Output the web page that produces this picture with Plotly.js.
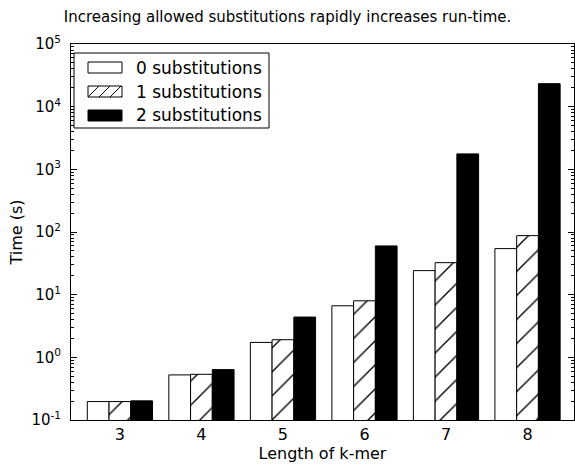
<!DOCTYPE html>
<html>
<head>
<meta charset="utf-8">
<script src="https://cdn.plot.ly/plotly-3.0.1.min.js"></script>
<style>html,body{margin:0;padding:0;background:#fff;}#chart{width:575px;height:465px;}</style>
</head>
<body>
<div id="chart"></div>
<script>
// ---- data ----
const kmer = [3, 4, 5, 6, 7, 8];
const sub0 = [0.197, 0.524, 1.73, 6.64, 24.2, 54.3];
const sub1 = [0.197, 0.536, 1.91, 7.98, 32.4, 87.5];
const sub2 = [0.202, 0.637, 4.39, 59.9, 1763, 23280];
const seriesNames = ['0 substitutions', '1 substitutions', '2 substitutions'];
const yTickVals = [0.1, 1, 10, 100, 1000, 10000, 100000];
const yTickText = ['10<sup>-1</sup>', '10<sup>0</sup>', '10<sup>1</sup>', '10<sup>2</sup>', '10<sup>3</sup>', '10<sup>4</sup>', '10<sup>5</sup>'];
const xTickText = ['3', '4', '5', '6', '7', '8'];
const titleText = 'Increasing allowed substitutions rapidly increases run-time.';
const xTitle = 'Length of k-mer';
const yTitle = 'Time (s)';

// ---- layout geometry ----
const W = 575, H = 465;
const M = {l: 71, r: 1, t: 44, b: 45};
const PW = W - M.l - M.r, PH = H - M.t - M.b;
const px = x => (x - M.l) / PW;
const py = y => (H - M.b - y) / PH;
const FONT = 'DejaVu Sans, sans-serif';

const lineStyle = {color: '#000', width: 1};
const traces = [
  {type: 'bar', x: kmer, y: sub0, name: seriesNames[0],
   marker: {color: '#fff', line: lineStyle}},
  {type: 'bar', x: kmer, y: sub1, name: seriesNames[1],
   marker: {color: '#fff', line: lineStyle,
            pattern: {shape: '/', fgcolor: '#000', bgcolor: '#fff', size: 17, solidity: 0.08}}},
  {type: 'bar', x: kmer, y: sub2, name: seriesNames[2],
   marker: {color: '#000', line: lineStyle}}
];

// custom legend (matplotlib-like swatches)
const shapes = [];
const annotations = [];
const lgX0 = 74, lgX1 = 269, lgY0 = 53, lgY1 = 128;
shapes.push({type: 'rect', xref: 'paper', yref: 'paper', x0: px(lgX0), x1: px(lgX1), y0: py(lgY0), y1: py(lgY1),
             line: {color: '#000', width: 1}, fillcolor: '#fff', layer: 'above'});
const rowC = [67.5, 91.5, 115.5];
const swX0 = 88, swX1 = 122, swH = 11;
const fills = ['#fff', '#fff', '#000'];
rowC.forEach((c, i) => {
  const y0 = c - swH / 2, y1 = c + swH / 2;
  shapes.push({type: 'rect', xref: 'paper', yref: 'paper', x0: px(swX0), x1: px(swX1), y0: py(y1), y1: py(y0),
               line: {color: '#000', width: 1}, fillcolor: fills[i], layer: 'above'});
  if (i === 1) {
    const step = 11;
    let d = '';
    for (let s = swX0 - swH; s < swX1; s += step) {
      let xa = s, ya = y1, xb = s + swH, yb = y0;
      if (xa < swX0) { ya = y1 - (swX0 - xa); xa = swX0; }
      if (xb > swX1) { yb = y0 + (xb - swX1); xb = swX1; }
      if (xb <= xa) continue;
      d += `M${px(xa)},${py(ya)}L${px(xb)},${py(yb)}`;
    }
    shapes.push({type: 'path', xref: 'paper', yref: 'paper', path: d, line: {color: '#000', width: 1}, layer: 'above'});
  }
  annotations.push({xref: 'paper', yref: 'paper', x: px(134), y: py(c), xanchor: 'left', yanchor: 'middle',
                    text: seriesNames[i], showarrow: false, font: {family: FONT, size: 17, color: '#000'}});
});

const layout = {
  width: W, height: H,
  margin: M,
  paper_bgcolor: '#fff', plot_bgcolor: '#fff',
  font: {family: FONT, size: 14, color: '#000'},
  showlegend: false,
  barmode: 'group', bargap: 0.2, bargroupgap: 0,
  title: {text: titleText, x: 0.5, xref: 'container', xanchor: 'center', y: 0.965, yref: 'container', yanchor: 'middle',
          font: {family: FONT, size: 15, color: '#000'}},
  xaxis: {range: [2.4, 8.57], tickvals: kmer, ticktext: xTickText, ticks: '', showgrid: false, zeroline: false,
          showline: true, linecolor: '#000', linewidth: 1, mirror: true,
          tickfont: {family: FONT, size: 16}, ticklabelstandoff: 0,
          title: {text: xTitle, font: {family: FONT, size: 16}, standoff: 2}},
  yaxis: {type: 'log', range: [-1, 5], tickvals: yTickVals, ticktext: yTickText,
          ticks: 'inside', ticklen: 6, tickcolor: '#000', showgrid: false, zeroline: false,
          showline: true, linecolor: '#000', linewidth: 1, mirror: 'ticks',
          minor: {ticks: 'inside', ticklen: 3, tickcolor: '#000', showgrid: false, dtick: 'D1'},
          tickfont: {family: FONT, size: 15}, ticklabelstandoff: 6,
          title: {text: yTitle, font: {family: FONT, size: 16}, standoff: 4}},
  shapes: shapes,
  annotations: annotations
};

Plotly.newPlot('chart', traces, layout, {displayModeBar: false, staticPlot: true});
</script>
</body>
</html>
